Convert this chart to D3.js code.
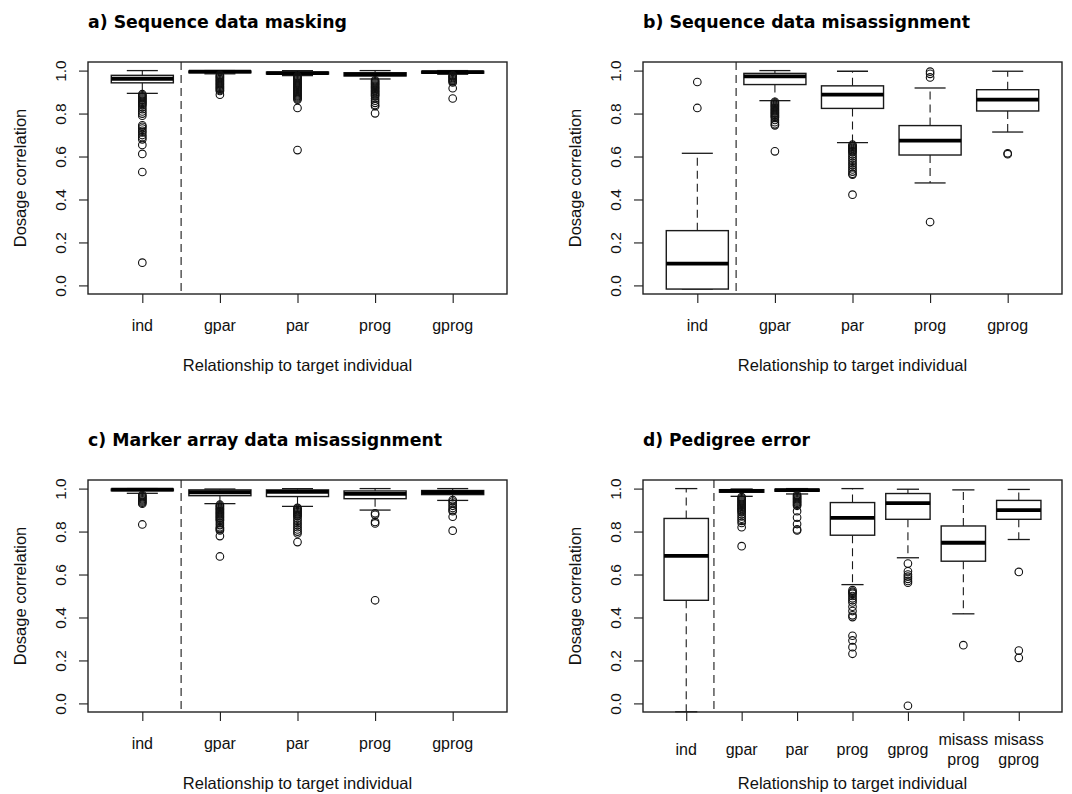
<!DOCTYPE html>
<html><head><meta charset="utf-8">
<script src="https://cdn.jsdelivr.net/npm/d3@7"></script>
<style>body{margin:0;background:#fff}</style>
</head><body>
<svg id="c" width="1072" height="794"></svg>
<script>
const catsABC = ["ind","gpar","par","prog","gprog"];
const catsD = ["ind","gpar","par","prog","gprog","misass\nprog","misass\ngprog"];
const yTicks = [0, 0.2, 0.4, 0.6, 0.8, 1.0];
const titles = ["a) Sequence data masking","b) Sequence data misassignment","c) Marker array data misassignment","d) Pedigree error"];
const yLabel = "Dosage correlation";
const xLabel = "Relationship to target individual";

// [lower whisker, Q1, median, Q3, upper whisker]
const statsA = [[0.894,0.943,0.962,0.978,1.0],[0.985,0.990,0.995,0.998,1.0],[0.977,0.984,0.988,0.993,1.0],[0.961,0.975,0.982,0.990,1.0],[0.983,0.988,0.993,0.997,1.0]];
const outA = [
 [0.89,0.885,0.88,0.875,0.87,0.865,0.86,0.855,0.85,0.845,0.84,0.83,0.82,0.81,0.80,0.79,0.745,0.738,0.73,0.72,0.712,0.70,0.69,0.68,0.654,0.612,0.528,0.106],
 [0.98,0.975,0.97,0.965,0.96,0.955,0.95,0.945,0.94,0.935,0.93,0.925,0.92,0.915,0.91,0.905,0.888],
 [0.975,0.97,0.965,0.96,0.955,0.95,0.945,0.94,0.935,0.93,0.925,0.92,0.915,0.91,0.905,0.90,0.895,0.89,0.885,0.88,0.875,0.87,0.865,0.826,0.63],
 [0.955,0.95,0.945,0.94,0.935,0.93,0.925,0.92,0.915,0.91,0.905,0.90,0.895,0.89,0.885,0.88,0.87,0.86,0.85,0.84,0.834,0.801],
 [0.978,0.975,0.97,0.965,0.96,0.955,0.95,0.945,0.918,0.87]
];
const statsB = [[-0.017,-0.017,0.101,0.255,0.615],[0.86,0.935,0.973,0.987,1.0],[0.665,0.824,0.888,0.929,0.997],[0.477,0.607,0.674,0.744,0.919],[0.714,0.812,0.865,0.911,0.997]];
const outB = [
 [0.947,0.826],
 [0.855,0.85,0.845,0.84,0.835,0.83,0.825,0.82,0.815,0.81,0.805,0.80,0.795,0.79,0.785,0.78,0.77,0.76,0.75,0.745,0.624],
 [0.655,0.65,0.645,0.64,0.635,0.63,0.625,0.62,0.61,0.60,0.59,0.58,0.57,0.56,0.55,0.54,0.53,0.52,0.516,0.4225],
 [0.995,0.985,0.968,0.295],
 [0.615,0.611]
];
const statsC = [[0.978,0.990,0.995,0.998,1.0],[0.93,0.967,0.983,0.994,0.998],[0.917,0.963,0.985,0.994,1.0],[0.90,0.953,0.975,0.989,1.0],[0.945,0.972,0.983,0.991,1.0]];
const outC = [
 [0.97,0.965,0.96,0.955,0.95,0.945,0.94,0.935,0.93,0.833],
 [0.925,0.92,0.915,0.91,0.905,0.90,0.895,0.89,0.885,0.88,0.875,0.87,0.865,0.86,0.855,0.85,0.84,0.83,0.82,0.815,0.81,0.805,0.779,0.684],
 [0.91,0.905,0.90,0.895,0.89,0.885,0.88,0.875,0.87,0.86,0.85,0.84,0.83,0.82,0.81,0.80,0.791,0.751],
 [0.885,0.878,0.845,0.838,0.48],
 [0.947,0.94,0.93,0.92,0.91,0.90,0.895,0.869,0.804]
];
const statsD = [[-0.039,0.48,0.687,0.861,1.0],[0.964,0.983,0.989,0.995,0.998],[0.975,0.988,0.993,0.997,1.0],[0.553,0.783,0.864,0.935,1.0],[0.678,0.857,0.932,0.977,0.997],[0.417,0.662,0.748,0.826,0.994],[0.763,0.857,0.90,0.945,0.996]];
const outD = [
 [],
 [0.96,0.955,0.95,0.945,0.94,0.935,0.93,0.925,0.92,0.915,0.91,0.905,0.90,0.895,0.89,0.88,0.87,0.86,0.85,0.84,0.82,0.732],
 [0.97,0.965,0.96,0.955,0.95,0.945,0.94,0.935,0.93,0.925,0.92,0.895,0.865,0.835,0.81,0.805],
 [0.527,0.52,0.515,0.51,0.50,0.49,0.48,0.47,0.45,0.43,0.41,0.402,0.315,0.293,0.262,0.231],
 [0.651,0.615,0.60,0.59,0.58,0.57,0.562,-0.011],
 [0.271],
 [0.612,0.246,0.212]
];

const svg = d3.select("#c");
const W = 419, H = 232;
const panels = [
 {left:88, top:62, cats:catsABC, stats:statsA, out:outA, title:titles[0], tw:259, tickOff:37, multi:false},
 {left:643, top:62, cats:catsABC, stats:statsB, out:outB, title:titles[1], tw:327, tickOff:37, multi:false},
 {left:88, top:480, cats:catsABC, stats:statsC, out:outC, title:titles[2], tw:354, tickOff:37, multi:false},
 {left:643, top:480, cats:catsD, stats:statsD, out:outD, title:titles[3], tw:167, tickOff:43, multi:true}
];
const ink = "#1a1a1a";
const dash = "8,5";

panels.forEach(p => {
  const n = p.cats.length;
  const x = d3.scaleLinear().domain([0.5 - 0.04*n, n + 0.5 + 0.04*n]).range([p.left, p.left + W]);
  const y = d3.scaleLinear().domain([-0.04, 1.04]).range([p.top + H, p.top]);
  const g = svg.append("g");
  const bw = x(0.8) - x(0);

  // title
  g.append("text").attr("x", p.left).attr("y", p.top - 34.5)
    .attr("font-family", "'DejaVu Sans', sans-serif").attr("font-weight", "bold")
    .attr("font-size", 18.5).attr("textLength", p.tw).attr("lengthAdjust", "spacingAndGlyphs")
    .attr("fill", "#000").text(p.title);

  // y axis
  const ya = g.append("g").attr("transform", `translate(${p.left},0)`)
    .call(d3.axisLeft(y).tickValues(yTicks).tickSize(9).tickFormat(d3.format(".1f")));
  ya.select(".domain").remove();
  ya.selectAll(".tick line").attr("stroke", ink).attr("stroke-width", 1.1);
  ya.selectAll(".tick text").attr("font-family", "'Liberation Sans', Arial, sans-serif").attr("font-size", 15.5)
    .attr("fill", "#111").attr("x", null).attr("dy", null).attr("text-anchor", "middle")
    .attr("transform", "translate(-22,0) rotate(-90)");

  // x axis
  const xa = g.append("g").attr("transform", `translate(0,${p.top + H})`)
    .call(d3.axisBottom(x).tickValues(d3.range(1, n + 1)).tickSize(9).tickFormat(""));
  xa.select(".domain").remove();
  xa.selectAll(".tick line").attr("stroke", ink).attr("stroke-width", 1.1);
  p.cats.forEach((c, i) => {
    const lines = c.split("\n");
    const t = g.append("text").attr("text-anchor", "middle")
      .attr("font-family", "'Liberation Sans', Arial, sans-serif").attr("font-size", 16).attr("fill", "#111");
    if (lines.length === 1) {
      t.attr("x", x(i + 1)).attr("y", p.top + H + p.tickOff).text(c);
    } else {
      lines.forEach((l, k) => {
        t.append("tspan").attr("x", x(i + 1)).attr("y", p.top + H + p.tickOff - 10.3 + k * 20.3).text(l);
      });
    }
  });

  // axis labels
  g.append("text").attr("text-anchor", "middle")
    .attr("font-family", "'Liberation Sans', Arial, sans-serif").attr("font-size", 16.5).attr("fill", "#111")
    .attr("x", p.left + W / 2).attr("y", p.top + H + 77).text(xLabel);
  g.append("text").attr("text-anchor", "middle")
    .attr("font-family", "'Liberation Sans', Arial, sans-serif").attr("font-size", 16.5).attr("fill", "#111")
    .attr("transform", `translate(${p.left - 62},${p.top + H / 2}) rotate(-90)`).text(yLabel);

  // separator
  g.append("line").attr("x1", x(1.5)).attr("x2", x(1.5)).attr("y1", p.top).attr("y2", p.top + H)
    .attr("stroke", ink).attr("stroke-width", 1.1).attr("stroke-dasharray", dash);

  // boxes
  p.stats.forEach((s, i) => {
    const cx = x(i + 1);
    const bg = g.append("g");
    // whiskers
    bg.append("line").attr("x1", cx).attr("x2", cx).attr("y1", y(s[3])).attr("y2", y(s[4]))
      .attr("stroke", ink).attr("stroke-width", 1.1).attr("stroke-dasharray", dash);
    bg.append("line").attr("x1", cx).attr("x2", cx).attr("y1", y(s[1])).attr("y2", y(s[0]))
      .attr("stroke", ink).attr("stroke-width", 1.1).attr("stroke-dasharray", dash);
    // staples
    [s[0], s[4]].forEach(v => {
      bg.append("line").attr("x1", cx - bw / 4).attr("x2", cx + bw / 4).attr("y1", y(v)).attr("y2", y(v))
        .attr("stroke", ink).attr("stroke-width", 1.3);
    });
    // box
    bg.append("rect").attr("x", cx - bw / 2).attr("width", bw)
      .attr("y", y(s[3])).attr("height", Math.max(0.5, y(s[1]) - y(s[3])))
      .attr("fill", "#fff").attr("stroke", ink).attr("stroke-width", 1.4);
    bg.append("line").attr("x1", cx - bw / 2).attr("x2", cx + bw / 2).attr("y1", y(s[2])).attr("y2", y(s[2]))
      .attr("stroke", "#000").attr("stroke-width", 3.8);
    // outliers
    bg.selectAll("circle").data(p.out[i]).join("circle")
      .attr("cx", cx).attr("cy", d => y(d)).attr("r", 3.8)
      .attr("fill", "none").attr("stroke", "#111").attr("stroke-width", 1.1);
  });

  // plot frame
  g.append("rect").attr("x", p.left).attr("y", p.top).attr("width", W).attr("height", H)
    .attr("fill", "none").attr("stroke", "#222").attr("stroke-width", 1.4);
});
</script>
</body></html>
